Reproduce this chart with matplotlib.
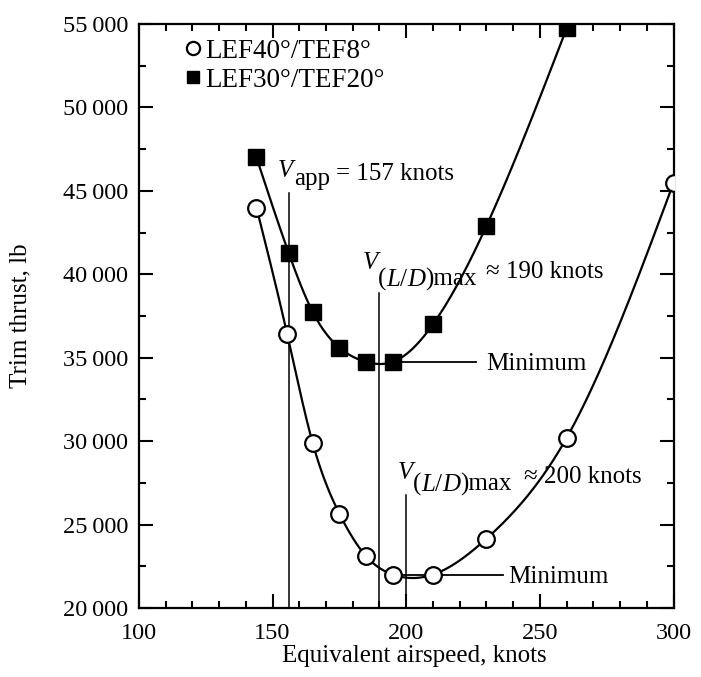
import numpy as np
import matplotlib
matplotlib.use("Agg")
import matplotlib.pyplot as plt
from matplotlib.lines import Line2D
from matplotlib.ticker import MultipleLocator, FuncFormatter
from matplotlib.transforms import IdentityTransform

# Data
speed_lef40 = [144, 155.5, 165, 175, 185, 195, 210, 230, 260, 300]
thrust_lef40 = [44000, 36400, 29900, 25650, 23100, 22000, 22000, 24150, 30200, 45500]
speed_lef30 = [144, 156, 165, 175, 185, 195, 210, 230, 260]
thrust_lef30 = [47000, 41300, 37750, 35600, 34750, 34750, 37000, 42900, 54750]
labels = ["LEF40°/TEF8°", "LEF30°/TEF20°"]

v_app, v_app_top = 156, 44900
v_ld30, v_ld30_top = 190, 38900
v_ld40, v_ld40_top = 200, 26800

plt.rcParams["font.family"] = ["Liberation Serif", "DejaVu Serif"]
FS = 18


def natural_spline(x, y, xs):
    x = np.asarray(x, float)
    y = np.asarray(y, float)
    n = len(x)
    h = np.diff(x)
    A = np.zeros((n, n))
    b = np.zeros(n)
    A[0, 0] = A[-1, -1] = 1
    for i in range(1, n - 1):
        A[i, i - 1] = h[i - 1]
        A[i, i] = 2 * (h[i - 1] + h[i])
        A[i, i + 1] = h[i]
        b[i] = 6 * ((y[i + 1] - y[i]) / h[i] - (y[i] - y[i - 1]) / h[i - 1])
    M = np.linalg.solve(A, b)
    k = np.clip(np.searchsorted(x, xs) - 1, 0, n - 2)
    t0 = x[k + 1] - xs
    t1 = xs - x[k]
    hk = h[k]
    return (M[k] * t0**3 / (6 * hk) + M[k + 1] * t1**3 / (6 * hk)
            + (y[k] / hk - M[k] * hk / 6) * t0
            + (y[k + 1] / hk - M[k + 1] * hk / 6) * t1)


fig = plt.figure(figsize=(7.01, 6.77), dpi=100)
ax = fig.add_axes([0.198, 0.102, 0.763, 0.8625])
ax.set_xlim(100, 300)
ax.set_ylim(20000, 55000)
renderer = fig.canvas.get_renderer()


def rich_text(x, y, parts):
    # parts: (text, gap_px, baseline_shift_px, italic)
    X, Y = ax.transData.transform((x, y))
    for s, gap, dy, it in parts:
        t = ax.text(X + gap, Y + dy, s, transform=IdentityTransform(), fontsize=FS,
                    style="italic" if it else "normal", va="baseline", ha="left")
        X = t.get_window_extent(renderer).x1


xs = np.linspace(speed_lef40[0], speed_lef40[-1], 400)
ax.plot(xs, natural_spline(speed_lef40, thrust_lef40, xs), color="black", lw=1.6, zorder=2)
xs = np.linspace(speed_lef30[0], speed_lef30[-1], 400)
ax.plot(xs, natural_spline(speed_lef30, thrust_lef30, xs), color="black", lw=1.6, zorder=2)

ax.plot(speed_lef40, thrust_lef40, "o", ms=12, mfc="white", mec="black", mew=1.6, zorder=3)
ax.plot(speed_lef30, thrust_lef30, "s", ms=11, mfc="black", mec="black", zorder=3)

# reference lines
ax.plot([v_app, v_app], [20000, v_app_top], color="black", lw=1.1, zorder=1)
ax.plot([v_ld30, v_ld30], [20000, v_ld30_top], color="black", lw=1.1, zorder=1)
ax.plot([v_ld40, v_ld40], [20000, v_ld40_top], color="black", lw=1.1, zorder=1)
ax.plot([195, 226], [34750, 34750], color="black", lw=1.3, zorder=1)
ax.plot([195, 236], [22000, 22000], color="black", lw=1.3, zorder=1)

ax.text(230, 34270, "Minimum", fontsize=FS, va="baseline", ha="left")
ax.text(238, 21500, "Minimum", fontsize=FS, va="baseline", ha="left")

rich_text(152, 45650, [("V", 0, 3, True), ("app", 1, -5, False), ("= 157 knots", 6, 0, False)])
sub = [("(", 0, -8, False), ("L", 0, -8, True), ("/", 0, -8, False),
       ("D", 0, -8, True), (")max", 0, -8, False)]
rich_text(183.7, 39780, [("V", 0, 9, True)] + sub + [("≈ 190 knots", 9, 0, False)])
rich_text(196.8, 27500, [("V", 0, 4, True)] + sub + [("≈ 200 knots", 12, 0, False)])

handles = [
    Line2D([], [], ls="none", marker="o", ms=9.5, mfc="white", mec="black", mew=1.6),
    Line2D([], [], ls="none", marker="s", ms=8.5, mfc="black", mec="black"),
]
ax.legend(handles, labels, loc="upper left", frameon=False, fontsize=19.5,
          handlelength=0.5, handletextpad=0.2, labelspacing=0.15,
          borderpad=0, borderaxespad=0, bbox_to_anchor=(0.089, 0.975))

ax.xaxis.set_major_locator(MultipleLocator(50))
ax.xaxis.set_minor_locator(MultipleLocator(10))
ax.yaxis.set_major_locator(MultipleLocator(5000))
ax.yaxis.set_minor_locator(MultipleLocator(2500))
ax.yaxis.set_major_formatter(FuncFormatter(lambda v, p: f"{int(v):,}".replace(",", "\u2009")))
ax.tick_params(which="both", direction="in", top=True, right=True, width=1.5, labelsize=17.5)
ax.tick_params(which="major", length=10)
ax.tick_params(which="minor", length=5)
ax.tick_params(axis="x", which="major", pad=11)
ax.tick_params(axis="y", which="major", pad=7.5)
for s in ax.spines.values():
    s.set_linewidth(1.6)

ax.set_xlabel("Equivalent airspeed, knots", fontsize=18)
ax.set_ylabel("Trim thrust, lb", fontsize=18)
ax.xaxis.set_label_coords(0.515, -0.063)
ax.yaxis.set_label_coords(-0.2, 0.5)

fig.savefig("out.png", dpi=100)
